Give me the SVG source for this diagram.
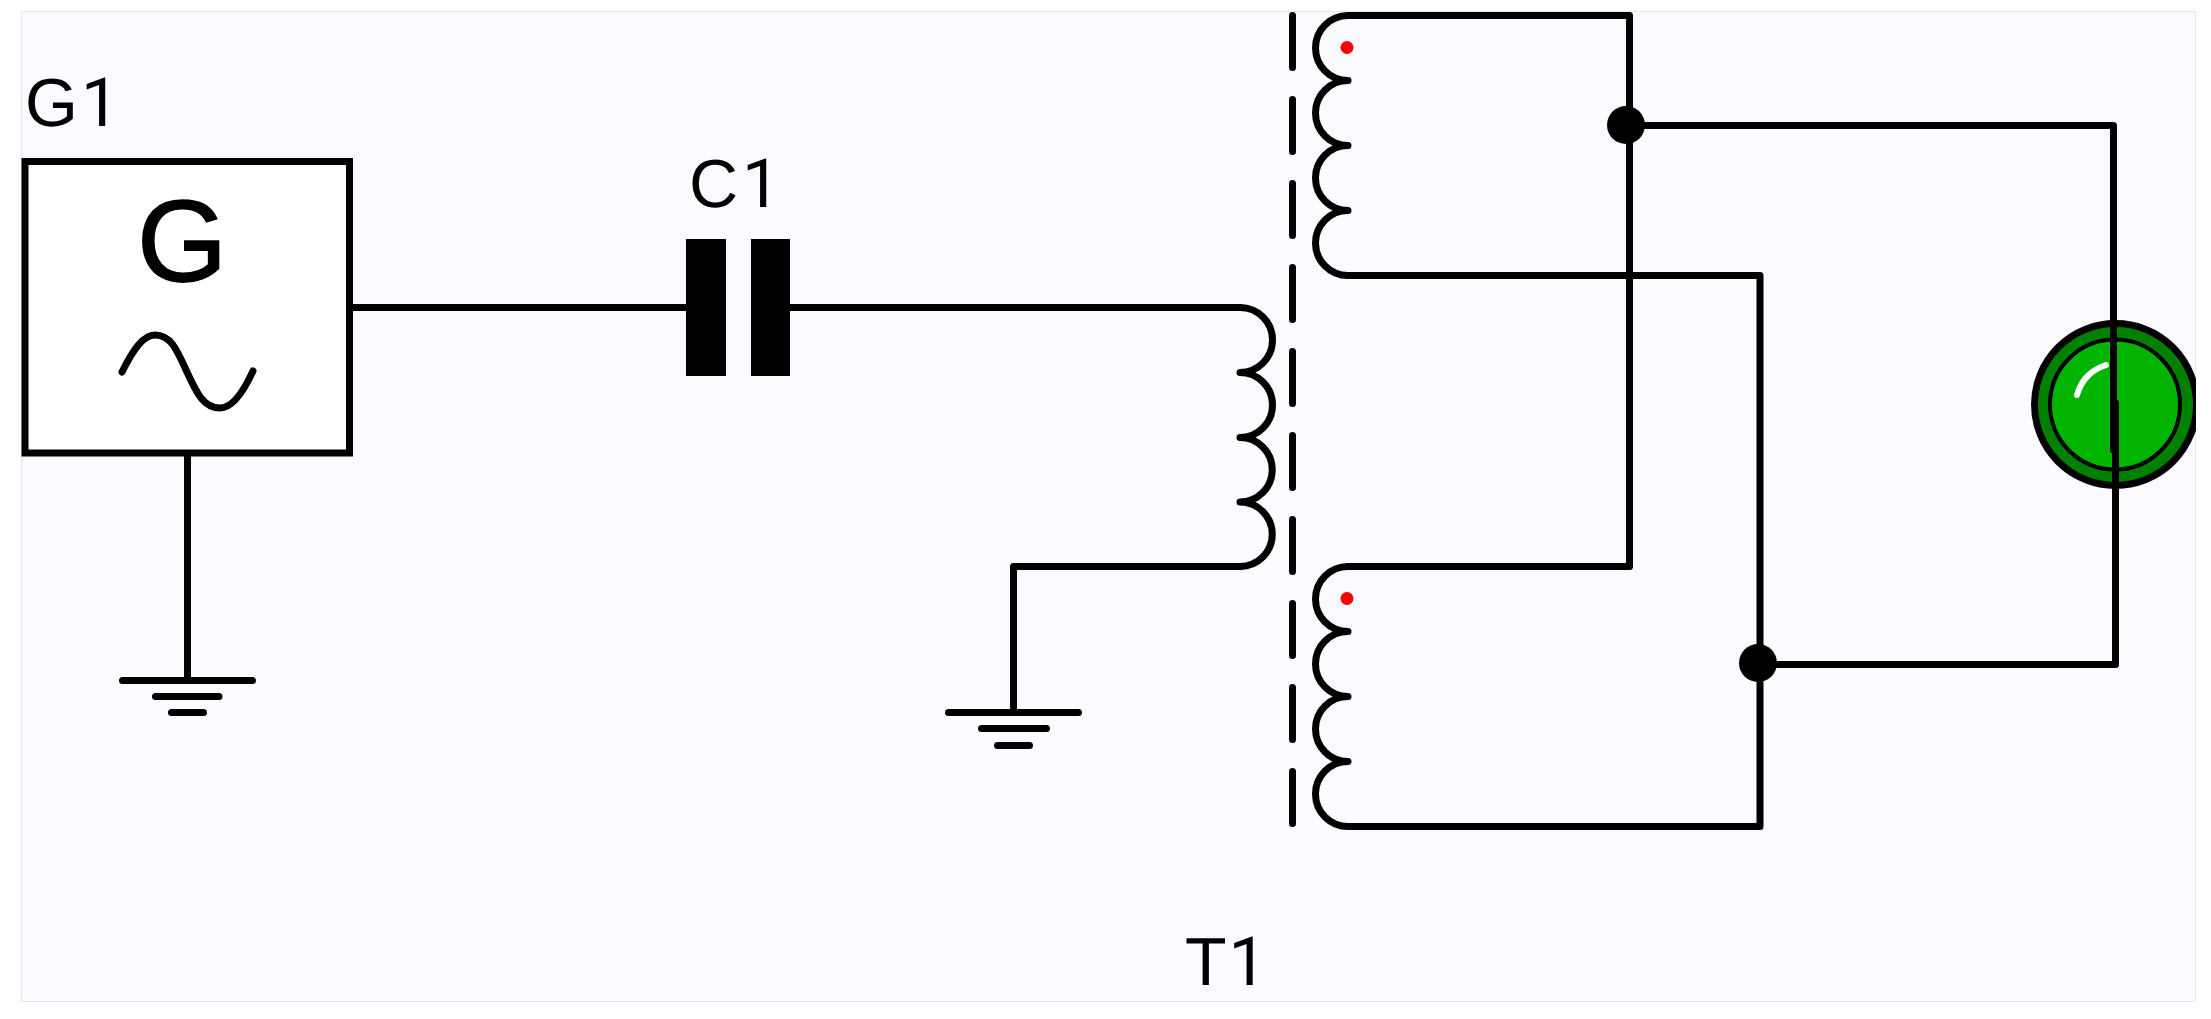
<svg xmlns="http://www.w3.org/2000/svg" width="2211" height="1019" viewBox="0 0 2211 1019">
  <style>
    .w { fill: none; stroke: #000; stroke-width: 7; stroke-linecap: round; stroke-linejoin: round; }
    .solid { fill: #000; }
    .t { font-family: "Liberation Sans", Arial, sans-serif; font-size: 68px; fill: #000; text-rendering: geometricPrecision; }
    .one { font-family: Roboto, "Liberation Sans", sans-serif; }
  </style>
  <defs>
    <clipPath id="sheet"><rect x="21" y="11" width="2175" height="991"/></clipPath>
  </defs>
  <rect id="background" x="21.5" y="11.5" width="2174" height="990" fill="#FAFAFF" stroke="#E6E6F0" stroke-width="1"/>

  <g id="G1">
    <rect x="25" y="161.500" width="324.500" height="291.500" fill="#fff" stroke="#000" stroke-width="7"/>
    <text class="t" x="25" y="126">G<tspan class="one" dx="3">1</tspan></text>
    <text x="137" y="280.500" font-family="'Liberation Sans', Arial, sans-serif" font-size="116" fill="#000" stroke="#000" stroke-width="1.5" text-rendering="geometricPrecision">G</text>
    <path class="w" d="M122 372C133 350 143 335 155 335C171 335 177 350 187 372C197 394 204 408 220 408C232 408 243 393 253 371"/>
  </g>

  <g id="C1">
    <text class="t" x="689" y="207">C<tspan class="one" dx="4">1</tspan></text>
    <rect class="solid" x="686" y="239" width="40" height="137"/>
    <rect class="solid" x="751" y="239" width="39" height="137"/>
  </g>

  <g id="T1">
    <text class="t" x="1185" y="985">T<tspan class="one" dx="2">1</tspan></text>
    <path id="T1-core" class="w" stroke-dasharray="52 32" d="M1292.500 15.500V824"/>
    <path id="T1-primary" class="w" d="M1240 307.500A32 32 0 0 1 1240 372.500A32 32 0 0 1 1240 437.500A32 32 0 0 1 1240 502A32 32 0 0 1 1240 566.500"/>
    <path id="T1-secondary-top" class="w" d="M1348 15.500A32 32 0 0 0 1348 80.500A32 32 0 0 0 1348 145.500A32 32 0 0 0 1348 210.500A32 32 0 0 0 1348 275.500"/>
    <path id="T1-secondary-bottom" class="w" d="M1348 566.500A32 32 0 0 0 1348 631.500A32 32 0 0 0 1348 696.500A32 32 0 0 0 1348 761.500A32 32 0 0 0 1348 826.500"/>
    <circle cx="1347" cy="47.500" r="6.500" fill="#f00"/>
    <circle cx="1347" cy="598.500" r="6.500" fill="#f00"/>
  </g>

  <g id="L1" clip-path="url(#sheet)">
    <circle cx="2115.500" cy="404.500" r="81" fill="#008000" stroke="#000" stroke-width="7"/>
    <circle cx="2115" cy="404.500" r="65" fill="#00B400" stroke="#000" stroke-width="4"/>
    <path d="M2077 395C2082 378 2092 370 2106 365" fill="none" stroke="#fff" stroke-width="6" stroke-linecap="round"/>
  </g>

  <g id="GND1">
    <path class="w" d="M122.500 680.500H252.500M155.500 696.500H219M171.500 712.500H203.500"/>
  </g>
  <g id="GND2">
    <path class="w" d="M948.500 712.500H1078.500M981.500 728.500H1046.500M997.500 745.500H1029.500"/>
  </g>

  <g id="connectors">
    <path class="w" d="M352 307.500H687"/>
    <path class="w" d="M187.500 456V680"/>
    <path class="w" d="M790 307.500H1240"/>
    <path class="w" d="M1240 566.500H1013.500V712"/>
    <path class="w" d="M1348 15.500H1629.500V566.500H1348"/>
    <path class="w" d="M1348 275.500H1760V826.500H1348"/>
    <path class="w" d="M1626 125.500H2113.500V450"/>
    <path class="w" d="M1758 664.500H2115.500V403"/>
    <circle class="solid" cx="1626" cy="125" r="19"/>
    <circle class="solid" cx="1758" cy="663" r="19"/>
  </g>
</svg>
